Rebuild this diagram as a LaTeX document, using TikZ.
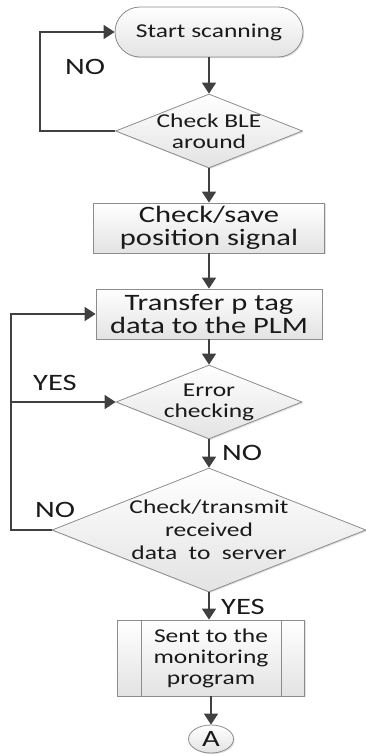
\documentclass[tikz,border=0pt]{standalone}
\usepackage{fontspec}
\setmainfont{Carlito}[FakeStretch=1.3]
\usetikzlibrary{arrows.meta,shapes.geometric,shadows}
\definecolor{linec}{HTML}{404040}
\definecolor{bordc}{HTML}{8C8C8C}
\definecolor{txtc}{HTML}{1A1A1A}
\begin{document}
\begin{tikzpicture}[x=1pt,y=1pt,
  shp/.style={draw=bordc, line width=0.8pt, top color=white, bottom color=gray!22,
    drop shadow={shadow xshift=1.2pt,shadow yshift=-1.2pt,fill=black,opacity=0.12}},
  small/.style={font=\fontsize{19.6}{21}\selectfont, text=txtc, align=center, inner sep=0pt},
  big/.style={font=\fontsize{23.5}{23.3}\selectfont, text=txtc, align=center, inner sep=0pt},
  arr/.style={draw=linec, line width=1.8pt, -{Triangle[length=11pt,width=14pt]}}]
\useasboundingbox (0,0) rectangle (366,-755);

\node[shp, rounded corners=25pt, minimum width=188pt, minimum height=50pt, inner sep=0pt, small] (start) at (209,-32) {Start scanning};

\node[shp, diamond, minimum width=187pt, minimum height=74pt, inner sep=0pt] (d1) at (209,-131) {};
\node[small] (t1) at (d1) {Check BLE\\around};

\node[shp, minimum width=231pt, minimum height=50pt, inner sep=0pt, big] (b1) at (209,-228) {Check/save\\position signal};

\node[shp, minimum width=226pt, minimum height=50pt, inner sep=0pt, big] (b2) at (209,-314) {Transfer p tag\\data to the PLM};

\node[shp, diamond, minimum width=186pt, minimum height=74pt, inner sep=0pt] (d2) at (209,-402) {};
\node[small] (t2) at (d2) {Error\\checking};

\node[shp, diamond, minimum width=314pt, minimum height=124pt, inner sep=0pt] (d3) at (209,-530) {};
\node[small, font=\fontsize{19.6}{23}\selectfont] (t3) at (209,-530) {Check/transmit\\received\\data\ \ to\ \ server};

\node[shp, minimum width=187pt, minimum height=76pt, inner sep=0pt, small] (b3) at (211,-658) {Sent to the\\monitoring\\program};
\draw[bordc, line width=0.8pt] ([xshift=24pt]b3.north west) -- ([xshift=24pt]b3.south west);
\draw[bordc, line width=0.8pt] ([xshift=-24pt]b3.north east) -- ([xshift=-24pt]b3.south east);

\node[shp, ellipse, minimum width=45pt, minimum height=28pt, inner sep=0pt] (A) at (211,-739) {};
\node[big] (tA) at (A) {A};

\node[big] (no1) at (85,-67) {NO};
\node[big] (yes1) at (55,-383) {YES};
\node[big] (no2) at (242,-453) {NO};
\node[big] (no3) at (55,-510) {NO};
\node[big] (yes2) at (243,-607) {YES};

\draw[arr] (start) -- (d1);
\draw[arr] (d1) -- (b1);
\draw[arr] (b1) -- (b2);
\draw[arr] (b2) -- (d2);
\draw[arr] (d2) -- (d3);
\draw[arr] (d3.south) -- (d3.south |- b3.north);
\draw[arr] (b3) -- (A);

\coordinate (c1) at (40,-131);
\draw[arr] (d1.west) -- (c1) |- (start.west);
\coordinate (c2) at (11,-530);
\draw[arr] (d3.west) -- (c2) |- (b2.west);
\draw[arr] (c2 |- d2.west) -- (d2.west);
\end{tikzpicture}
\end{document}
